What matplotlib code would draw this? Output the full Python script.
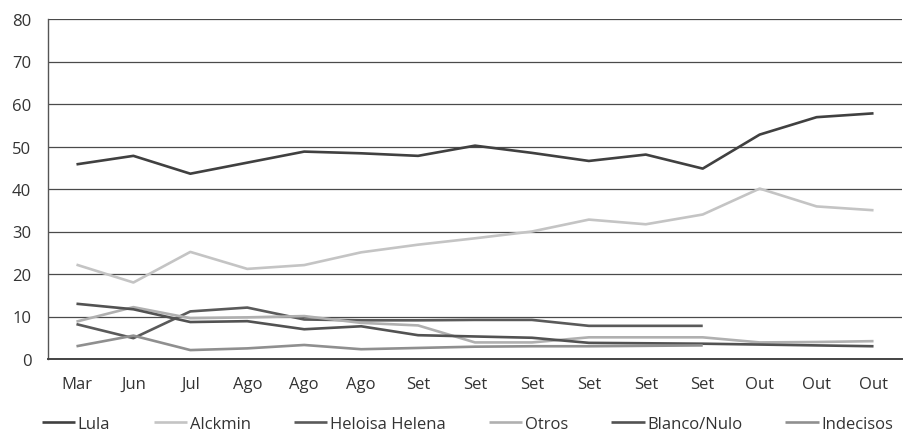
import matplotlib.pyplot as plt
import numpy as np

plt.rcParams["font.family"] = ["Open Sans", "DejaVu Sans"]

months = ["Mar", "Jun", "Jul", "Ago", "Ago", "Ago", "Set", "Set", "Set",
          "Set", "Set", "Set", "Out", "Out", "Out"]

lula = [45.8, 47.8, 43.6, 46.2, 48.8, 48.4, 47.8, 50.2, 48.5, 46.6, 48.1, 44.8, 52.8, 56.9, 57.8]
alckmin = [22.2, 18.0, 25.2, 21.2, 22.1, 25.1, 26.9, 28.4, 30.0, 32.8, 31.7, 34.0, 40.1, 35.9, 35.0]
heloisa = [8.2, 4.9, 11.2, 12.1, 9.3, 9.1, 9.1, 9.2, 9.2, 7.8, 7.8, 7.8, None, None, None]
otros = [8.8, 12.2, 9.6, 9.8, 10.1, 8.5, 7.9, 3.9, 3.9, 5.1, 5.1, 5.1, 3.9, 4.0, 4.2]
blanco = [13.0, 11.7, 8.7, 8.9, 7.0, 7.7, 5.6, 5.3, 5.0, 3.8, 3.7, 3.6, 3.4, 3.2, 3.0]
indecisos = [3.0, 5.5, 2.1, 2.5, 3.3, 2.3, 2.6, 2.9, 3.0, 3.0, 3.1, 3.2, None, None, None]

series = [
    ("Lula", lula, "#404040"),
    ("Alckmin", alckmin, "#c4c4c4"),
    ("Heloisa Helena", heloisa, "#5a5a5a"),
    ("Otros", otros, "#b0b0b0"),
    ("Blanco/Nulo", blanco, "#525252"),
    ("Indecisos", indecisos, "#8f8f8f"),
]

fig = plt.figure(figsize=(9.08, 4.39), dpi=100)
ax = fig.add_axes([48 / 908, 1 - 360 / 439, 854 / 908, 340 / 439])

x = np.arange(len(months))
for name, vals, color in series:
    y = np.array([np.nan if v is None else v for v in vals], dtype=float)
    ax.plot(x, y, color=color, lw=1.9, label=name, solid_capstyle="butt")

ax.set_xlim(-0.5, len(months) - 0.5)
ax.set_ylim(0, 80)
ax.set_yticks(range(0, 81, 10))
ax.set_xticks(x)
ax.set_xticklabels(months)
ax.yaxis.grid(True, color="#4a4a4a", lw=0.9)
ax.set_axisbelow(True)
ax.tick_params(length=0, labelsize=12, labelcolor="#333333")
ax.tick_params(axis="x", pad=12)
ax.tick_params(axis="y", pad=12)

for side in ["top", "right"]:
    ax.spines[side].set_visible(False)
ax.spines["left"].set_color("#555555")
ax.spines["left"].set_linewidth(1.0)
ax.spines["bottom"].set_color("#444444")
ax.spines["bottom"].set_linewidth(1.4)

fig.legend(loc="center", bbox_to_anchor=(0.515, 1 - 425 / 439), ncol=6, frameon=False,
           fontsize=12, handlelength=2.0, handletextpad=0.15, columnspacing=2.6,
           labelcolor="#333333")

fig.savefig("out.png", dpi=100)
